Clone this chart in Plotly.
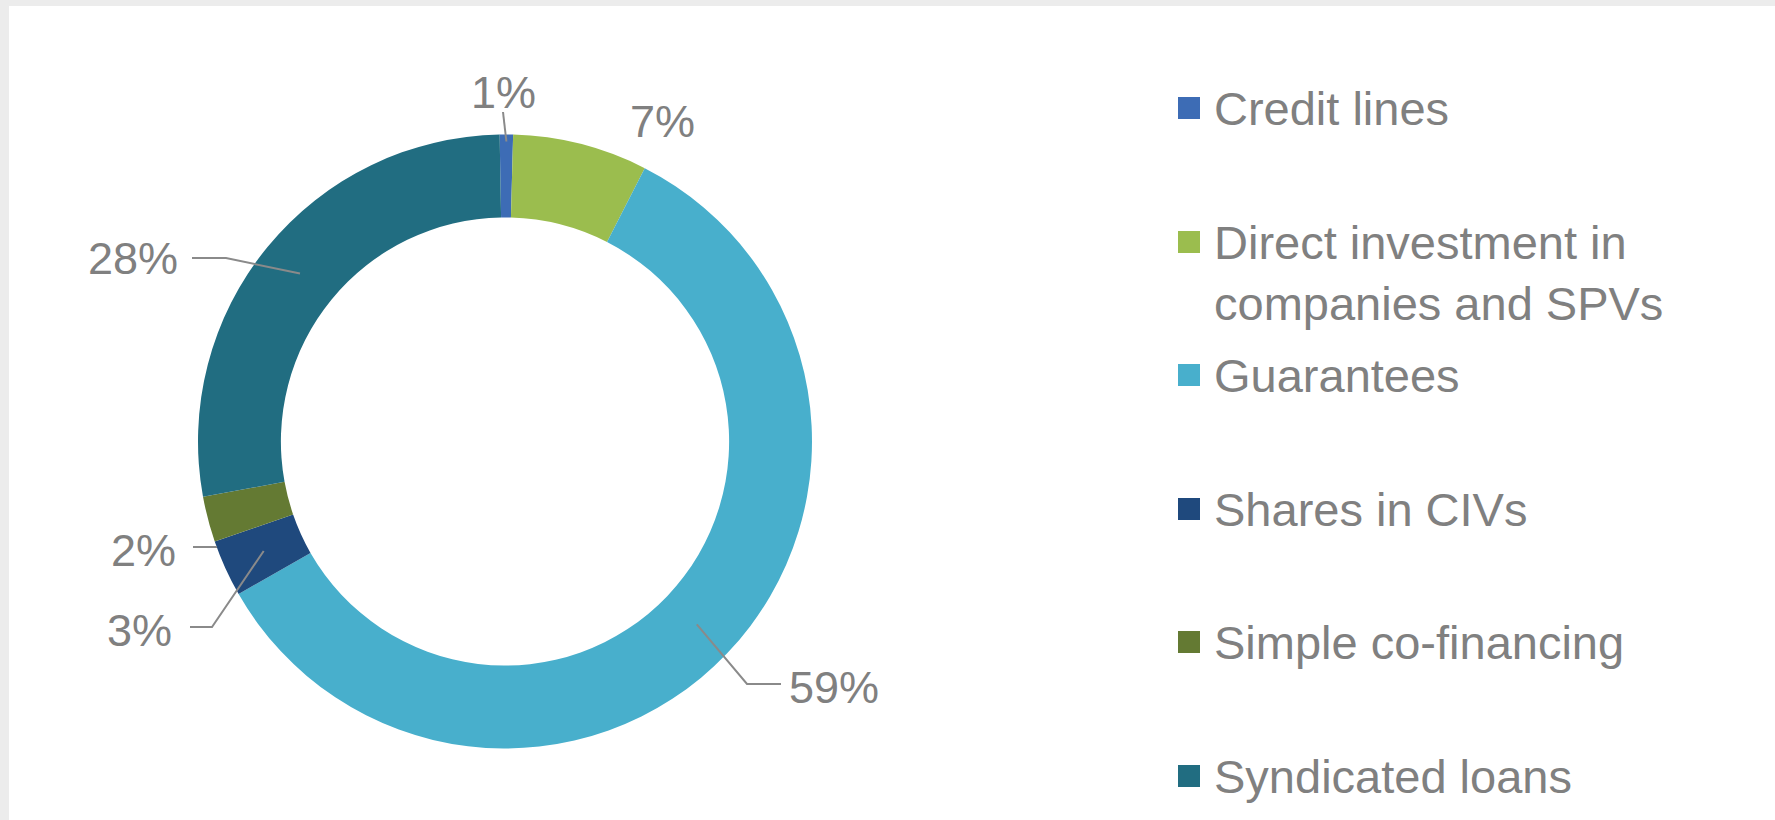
import math
import plotly.graph_objects as go

# ---------------- data ----------------
CATEGORIES = [
    "Credit lines",
    "Direct investment in<br>companies and SPVs",
    "Guarantees",
    "Shares in CIVs",
    "Simple co-financing",
    "Syndicated loans",
]
VALUES = [0.7, 7.1, 59.2, 3.0, 2.4, 27.6]

# ---------------- styles ----------------
COLORS = ["#3d6cb5", "#9bbd4e", "#48afcc", "#1f497d", "#647a33", "#216d81"]
TEXT_COLOR = "#808080"
LINE_COLOR = "#8a8a8a"
FONT = "Liberation Sans, Arial, Helvetica, sans-serif"
LABEL_FONT_SIZE = 45
LEGEND_FONT_SIZE = 47

W, H = 1775, 820
CX, CY, R_OUT = 505, 441.5, 307
HOLE = 0.73
ROTATION = -1.0

# label placement (pixel layout): x, y, xanchor
LABEL_POS = [
    (503, 92, "center"),
    (662, 121, "center"),
    (787, 687, "left"),
    (174, 630, "right"),
    (178, 550, "right"),
    (180, 258, "right"),
]
# leader line style: (start x, start y, elbow dx, anchor radius or None)
LEADERS = [
    (503, 112, 0, 300),
    None,
    (781, 684, -34, 265),
    (190, 627, 22, 265),
    (193, 547, 24, None),
    (192, 258, 34, 265),
]
LEGEND_X = 1189
LEGEND_TEXT_X = 1212
LEGEND_Y = [108, 242, 375, 509, 642, 776]
MARKER_SIZE = 22

total = sum(VALUES)


def mid_angle(i):
    cum = sum(VALUES[:i]) + VALUES[i] / 2
    return ROTATION + 360.0 * cum / total


def polar(theta_deg, r):
    t = math.radians(theta_deg)
    return CX + r * math.sin(t), CY - r * math.cos(t)


fig = go.Figure()

fig.add_trace(go.Pie(
    labels=CATEGORIES,
    values=VALUES,
    sort=False,
    direction="clockwise",
    rotation=ROTATION,
    hole=HOLE,
    marker=dict(colors=COLORS, line=dict(width=0)),
    textinfo="none",
    showlegend=False,
    domain=dict(
        x=[(CX - R_OUT) / W, (CX + R_OUT) / W],
        y=[1 - (CY + R_OUT) / H, 1 - (CY - R_OUT) / H],
    ),
))

shapes = [
    dict(type="rect", xref="paper", yref="paper", x0=0, x1=1, y0=1 - 6 / H, y1=1,
         fillcolor="#ececec", line=dict(width=0), layer="above"),
    dict(type="rect", xref="paper", yref="paper", x0=0, x1=9 / W, y0=0, y1=1,
         fillcolor="#ececec", line=dict(width=0), layer="above"),
]

# leader lines (drawn above the ring)
for i, ld in enumerate(LEADERS):
    if ld is None:
        continue
    sx, sy, edx, ar = ld
    pts = [(sx, sy)]
    if edx:
        pts.append((sx + edx, sy))
    if ar is not None:
        pts.append(polar(mid_angle(i), ar))
    path = "M " + " L ".join(f"{x:.1f},{y:.1f}" for x, y in pts)
    shapes.append(dict(type="path", xref="x", yref="y", path=path,
                       line=dict(color=LINE_COLOR, width=2), layer="above"))

# percentage labels
annotations = []
for i, v in enumerate(VALUES):
    x, y, xa = LABEL_POS[i]
    annotations.append(dict(
        x=x, y=y, xref="x", yref="y", xanchor=xa, yanchor="middle",
        text=f"{round(v / total * 100)}%", showarrow=False,
        font=dict(family=FONT, size=LABEL_FONT_SIZE, color=TEXT_COLOR),
    ))

# custom legend
fig.add_trace(go.Scatter(
    x=[LEGEND_X] * len(CATEGORIES), y=LEGEND_Y, mode="markers",
    marker=dict(symbol="square", size=MARKER_SIZE, color=COLORS, line=dict(width=0)),
    hoverinfo="skip", showlegend=False,
))
for i, lab in enumerate(CATEGORIES):
    nlines = lab.count("<br>") + 1
    y = LEGEND_Y[i] + (nlines - 1) * 0.65 * LEGEND_FONT_SIZE
    annotations.append(dict(
        x=LEGEND_TEXT_X, y=y, xref="x", yref="y", xanchor="left", yanchor="middle",
        align="left", text=lab, showarrow=False,
        font=dict(family=FONT, size=LEGEND_FONT_SIZE, color=TEXT_COLOR),
    ))

fig.update_layout(
    width=W, height=H,
    margin=dict(l=0, r=0, t=0, b=0),
    paper_bgcolor="white",
    plot_bgcolor="rgba(0,0,0,0)",
    xaxis=dict(range=[0, W], visible=False, fixedrange=True, domain=[0, 1]),
    yaxis=dict(range=[H, 0], visible=False, fixedrange=True, domain=[0, 1]),
    annotations=annotations,
    shapes=shapes,
)

fig.write_html("out.html")
